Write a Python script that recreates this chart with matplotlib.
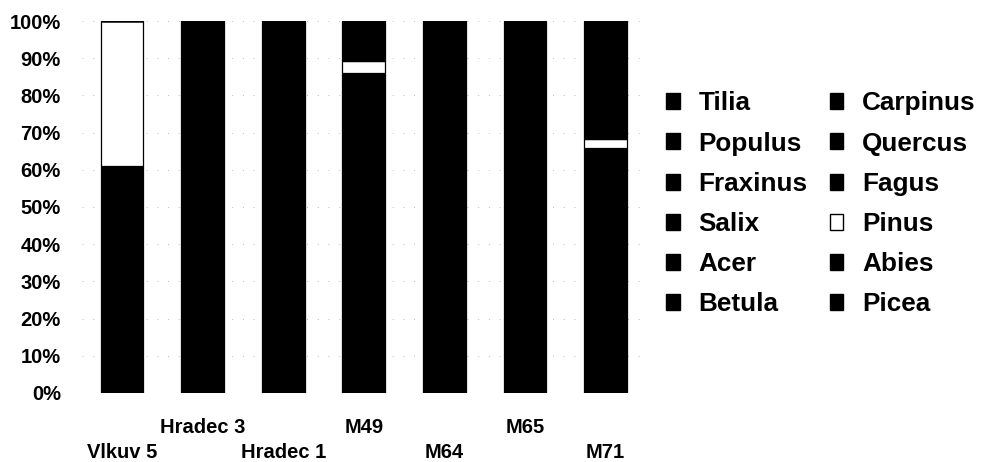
import matplotlib
matplotlib.use("Agg")
import matplotlib.pyplot as plt
from matplotlib.patches import Patch
import numpy as np

plt.rcParams['font.family'] = ['Liberation Sans', 'DejaVu Sans']
plt.rcParams['font.weight'] = 'bold'

sites = ["Vlkuv 5", "Hradec 3", "Hradec 1", "M49", "M64", "M65", "M71"]

# Percent composition per site (stacked bottom to top: Picea first)
picea = [61, 100, 100, 85.9, 100, 100, 65.8]
abies = [0, 0, 0, 0, 0, 0, 0]
pinus = [39, 0, 0, 3.3, 0, 0, 2.4]
fagus = [0, 0, 0, 10.8, 0, 0, 31.8]
quercus = [0, 0, 0, 0, 0, 0, 0]
carpinus = [0, 0, 0, 0, 0, 0, 0]
betula = [0, 0, 0, 0, 0, 0, 0]
acer = [0, 0, 0, 0, 0, 0, 0]
salix = [0, 0, 0, 0, 0, 0, 0]
fraxinus = [0, 0, 0, 0, 0, 0, 0]
populus = [0, 0, 0, 0, 0, 0, 0]
tilia = [0, 0, 0, 0, 0, 0, 0]

stack = [
    ("Picea", picea, "black"),
    ("Abies", abies, "black"),
    ("Pinus", pinus, "white"),
    ("Fagus", fagus, "black"),
    ("Quercus", quercus, "black"),
    ("Carpinus", carpinus, "black"),
    ("Betula", betula, "black"),
    ("Acer", acer, "black"),
    ("Salix", salix, "black"),
    ("Fraxinus", fraxinus, "black"),
    ("Populus", populus, "black"),
    ("Tilia", tilia, "black"),
]

legend_order = ["Tilia", "Populus", "Fraxinus", "Salix", "Acer", "Betula",
                "Carpinus", "Quercus", "Fagus", "Pinus", "Abies", "Picea"]

fig = plt.figure(figsize=(9.84, 4.62), dpi=100)
ax = fig.add_axes([0.083, 0.1494, 0.5735, 0.8051])

x = np.arange(len(sites))
bottom = np.zeros(len(sites))
colors = {}
for name, vals, col in stack:
    vals = np.array(vals, dtype=float)
    ax.bar(x, vals, width=0.53, bottom=bottom, color=col,
           edgecolor="black", linewidth=0.9, zorder=3)
    bottom += vals
    colors[name] = col

ax.set_xlim(-0.5, len(sites) - 0.5)
ax.set_ylim(0, 100)
ax.set_yticks(np.arange(0, 101, 10))
ax.set_yticklabels([f"{v}%" for v in range(0, 101, 10)], fontsize=14.5,
                   fontweight='bold')
ax.tick_params(axis='y', length=0, pad=15)
ax.set_xticks([])
for s in ax.spines.values():
    s.set_visible(False)
ax.yaxis.grid(True, color="#bbbbbb", linestyle=(0, (1, 10)), linewidth=0.7,
              zorder=0)

# Staggered category labels under the bars
for i, name in enumerate(sites):
    y = -0.092 if i % 2 == 1 else -0.16
    ax.text(i, y, name, transform=ax.get_xaxis_transform(), ha="center",
            va="center", fontsize=14.5, fontweight='bold')

handles = [Patch(facecolor=colors[n], edgecolor="black", linewidth=1.0)
           for n in legend_order]
fig.legend(handles, legend_order, loc="upper left",
           bbox_to_anchor=(0.677, 0.802), ncol=2, frameon=False,
           handlelength=0.52, handleheight=0.57,
           handletextpad=0.72, columnspacing=0.85, labelspacing=0.62,
           borderpad=0, borderaxespad=0,
           prop={'weight': 'bold', 'size': 18.8})

fig.savefig("out.png", dpi=100, facecolor="white")
